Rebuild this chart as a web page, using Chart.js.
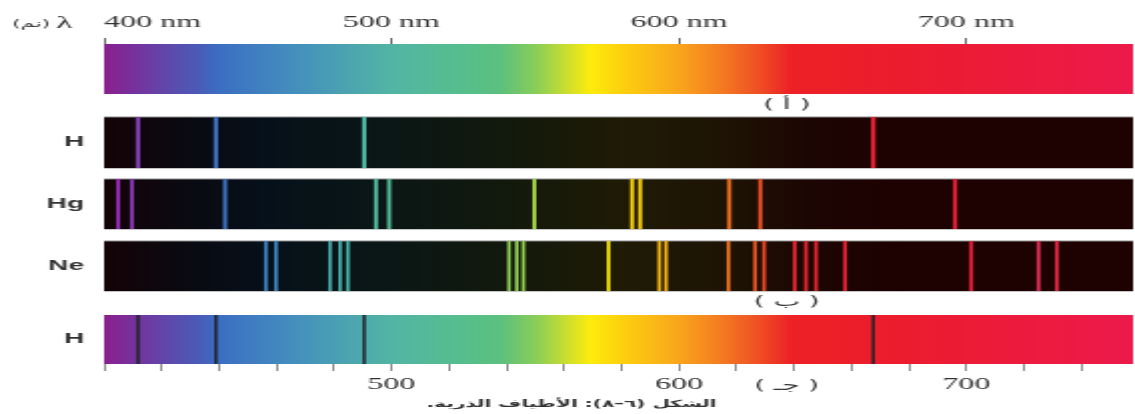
<!DOCTYPE html>
<html>
<head>
<meta charset="utf-8">
<script src="https://cdn.jsdelivr.net/npm/chart.js@4.4.1/dist/chart.umd.min.js"></script>
<style>
  html, body { margin: 0; padding: 0; background: #fff; overflow: hidden; }
  /* the original figure is drawn wide, so the canvas is stretched sideways */
  #wrap { position: absolute; left: 0; top: 0; width: 567px; height: 414px; transform: scaleX(2.0018); transform-origin: 0 0; }
</style>
</head>
<body>
<div id="wrap"><canvas id="spectra"></canvas></div>
<script>
// line positions in nm
const hydrogenLines = [411.8, 438.9, 490.5, 667.6];
const mercuryLines = [404.9, 409.7, 442.1, 494.6, 499.2, 549.7, 583.7, 586.5, 617.5, 628.3, 696.1];
const neonLines = [456.3, 459.8, 478.6, 482.1, 484.8, 540.9, 543.6, 545.9, 575.5, 593.2, 595.5,
                   617.2, 626.5, 629.6, 640.3, 644.2, 647.7, 657.8, 701.7, 725.1, 731.5];

const topTicks = [400, 500, 600, 700];
const bottomTicks = [400, 420, 440, 460, 480, 500, 520, 540, 560, 580, 600, 620, 640, 660, 680, 700, 720, 740];
const bottomLabels = [500, 600, 700];
const rowLabels = ['H', 'Hg', 'Ne', 'H'];

const X_MIN = 400, X_MAX = 758;

// row bands on the y axis, 0 = top of plot area
const bands = {
    spectrum: [0, 50],
    h: [73, 124],
    hg: [135, 185],
    ne: [197, 247],
    abs: [271, 320]
};

const spectrumStops = [[400, '#8b1f8f'], [433, '#4a5cb8'], [440, '#3b6ec3'], [468, '#4591bd'], [500, '#52b5a5'],
    [527, '#56bf8a'], [538, '#5cc07e'], [551, '#8ccf55'], [562, '#d3e02a'], [569, '#fdec0c'], [580, '#fdd10e'],
    [600, '#f9a51c'], [614, '#f47d21'], [628, '#ef4e24'], [639, '#ed2126'], [677, '#ec1c2e'], [758, '#ec1a4b']];
const darkStops = [[400, '#140306'], [430, '#0a0a12'], [455, '#06101a'], [500, '#0b1716'], [540, '#12190c'],
    [580, '#1f1b05'], [615, '#1e1405'], [645, '#1c0603'], [680, '#1e0101'], [758, '#1e0101']];
const lineStops = [[400, '#a21cb8'], [412, '#7d3fae'], [440, '#3f72c4'], [460, '#3c86c0'], [480, '#45a8a8'],
    [495, '#4fbd9e'], [520, '#6cc36c'], [545, '#8fcc50'], [560, '#c8dc30'], [575, '#f2e40f'], [590, '#f8c210'],
    [615, '#f27a22'], [628, '#ef5124'], [640, '#ec2630'], [700, '#e8203a'], [725, '#e4305a'], [735, '#e8203c']];

function rgb(hex) {
    const n = parseInt(hex.slice(1), 16);
    return [n >> 16 & 255, n >> 8 & 255, n & 255];
}

function colorAt(stops, wl) {
    let i = 1;
    while (i < stops.length - 1 && stops[i][0] < wl) i++;
    const [w0, c0] = stops[i - 1], [w1, c1] = stops[i];
    const t = Math.min(1, Math.max(0, (wl - w0) / (w1 - w0)));
    const a = rgb(c0), b = rgb(c1);
    return `rgb(${a.map((v, k) => Math.round(v + (b[k] - v) * t)).join(',')})`;
}

function gradient(chart, stops) {
    const x = chart.scales.x;
    if (!chart.chartArea || !x) return stops[0][1];
    const g = chart.ctx.createLinearGradient(x.getPixelForValue(X_MIN), 0, x.getPixelForValue(X_MAX), 0);
    stops.forEach(([wl, c]) => g.addColorStop((wl - X_MIN) / (X_MAX - X_MIN), c));
    return g;
}

function strip(band, stops, edge) {
    const edgeLine = v => [{x: X_MIN, y: v}, {x: X_MAX, y: v}];
    const common = {type: 'line', pointRadius: 0, borderColor: edge, borderWidth: edge ? 1 : 0, order: 1};
    return [
        {...common, data: edgeLine(band[0]), fill: '+1', backgroundColor: c => gradient(c.chart, stops)},
        {...common, data: edgeLine(band[1]), fill: false}
    ];
}

function lines(wls, band, colorFn, width) {
    return {
        type: 'scatter',
        data: wls.map(w => ({x: w, y: (band[0] + band[1]) / 2})),
        pointStyle: 'line',
        pointRotation: 90,
        pointRadius: c => {
            const y = c.chart.scales.y;
            return y ? Math.abs(y.getPixelForValue(band[1]) - y.getPixelForValue(band[0])) / 2 : 0;
        },
        pointBorderWidth: width,
        pointBorderColor: c => colorFn(c.raw ? c.raw.x : X_MIN),
        order: 0
    };
}

const emission = wl => colorAt(lineStops, wl);

const notes = {
    lambda: 'λ',
    unit: '(نم)',
    a: '( أ )',
    b: '( ب )',
    c: '( جـ )',
    caption: 'الشكل (٦–٨): الأطياف الذرية.'
};

const textPlugin = {
    id: 'figureText',
    afterDraw(chart) {
        const {ctx, scales: {x, y}} = chart;
        const noteX = x.getPixelForValue(637.5);
        ctx.save();
        ctx.fillStyle = '#333';
        ctx.textAlign = 'center';
        ctx.textBaseline = 'middle';
        ctx.font = '17px "Liberation Serif"';
        ctx.fillText(notes.lambda, 32, 24);
        ctx.font = '11px "DejaVu Sans"';
        ctx.fillText(notes.unit, 15.5, 24);
        ctx.direction = 'rtl';
        ctx.font = '14px "DejaVu Sans"';
        ctx.fillText(notes.a, noteX, y.getPixelForValue((bands.spectrum[1] + bands.h[0]) / 2));
        ctx.fillText(notes.b, noteX, y.getPixelForValue((bands.ne[1] + bands.abs[0]) / 2) - 1);
        ctx.fillText(notes.c, noteX, x.top + 22);
        ctx.font = 'bold 10px "DejaVu Sans"';
        ctx.fillText(notes.caption, chart.width / 2 + 2, x.top + 40);
        ctx.restore();
    }
};

// the plot area is pinned to the frame of the figure
const noSidePadding = s => { s.paddingLeft = 0; s.paddingRight = 0; };

new Chart(document.getElementById('spectra'), {
    type: 'line',
    data: {
        datasets: [
            lines(hydrogenLines, bands.h, emission, 2.2),
            lines(mercuryLines, bands.hg, emission, 2),
            lines(neonLines, bands.ne, emission, 1.8),
            lines(hydrogenLines, bands.abs, () => '#1f2329', 1.5),
            ...strip(bands.spectrum, spectrumStops, null),
            ...strip(bands.h, darkStops, '#8c8c8c'),
            ...strip(bands.hg, darkStops, '#8c8c8c'),
            ...strip(bands.ne, darkStops, '#8c8c8c'),
            ...strip(bands.abs, spectrumStops, null)
        ]
    },
    options: {
        responsive: true,
        maintainAspectRatio: false,
        animation: false,
        events: [],
        layout: {autoPadding: false, padding: {left: 0, right: 1, top: 0, bottom: 0}},
        plugins: {legend: {display: false}, tooltip: {enabled: false}},
        scales: {
            x: {
                type: 'linear',
                position: 'bottom',
                min: X_MIN,
                max: X_MAX,
                afterBuildTicks: s => { s.ticks = bottomTicks.map(v => ({value: v})); },
                afterFit: s => { s.height = 50; noSidePadding(s); },
                border: {display: false},
                grid: {drawOnChartArea: false, tickLength: 7, color: '#8a8a8a', lineWidth: 1},
                ticks: {
                    autoSkip: false,
                    maxRotation: 0,
                    padding: 4,
                    color: '#333',
                    font: {family: 'Liberation Serif', size: 16},
                    callback: v => bottomLabels.includes(v) ? String(v) : ''
                }
            },
            x2: {
                type: 'linear',
                position: 'top',
                min: X_MIN,
                max: X_MAX,
                afterBuildTicks: s => { s.ticks = [...topTicks, X_MAX].map(v => ({value: v})); },
                afterFit: s => { s.height = 44; noSidePadding(s); },
                border: {display: false},
                grid: {
                    drawOnChartArea: false,
                    tickLength: 6,
                    lineWidth: 1,
                    tickColor: c => (c.tick && topTicks.includes(c.tick.value)) ? '#666' : 'rgba(0,0,0,0)'
                },
                ticks: {
                    autoSkip: false,
                    maxRotation: 0,
                    align: 'inner',
                    padding: 6,
                    color: '#333',
                    font: {family: 'Liberation Serif', size: 16},
                    callback: v => topTicks.includes(v) ? v + ' nm' : ''
                }
            },
            y: {
                type: 'linear',
                reverse: true,
                min: 0,
                max: 320,
                afterBuildTicks: s => {
                    s.ticks = [bands.h, bands.hg, bands.ne, bands.abs].map(b => ({value: (b[0] + b[1]) / 2}));
                },
                afterFit: s => { s.width = 52; },
                border: {display: false},
                grid: {display: false, drawTicks: false},
                ticks: {
                    padding: 10,
                    color: '#333',
                    font: {family: 'Liberation Sans', size: 14, weight: 'bold'},
                    callback: (v, i) => rowLabels[i]
                }
            }
        }
    },
    plugins: [textPlugin]
});
</script>
</body>
</html>
